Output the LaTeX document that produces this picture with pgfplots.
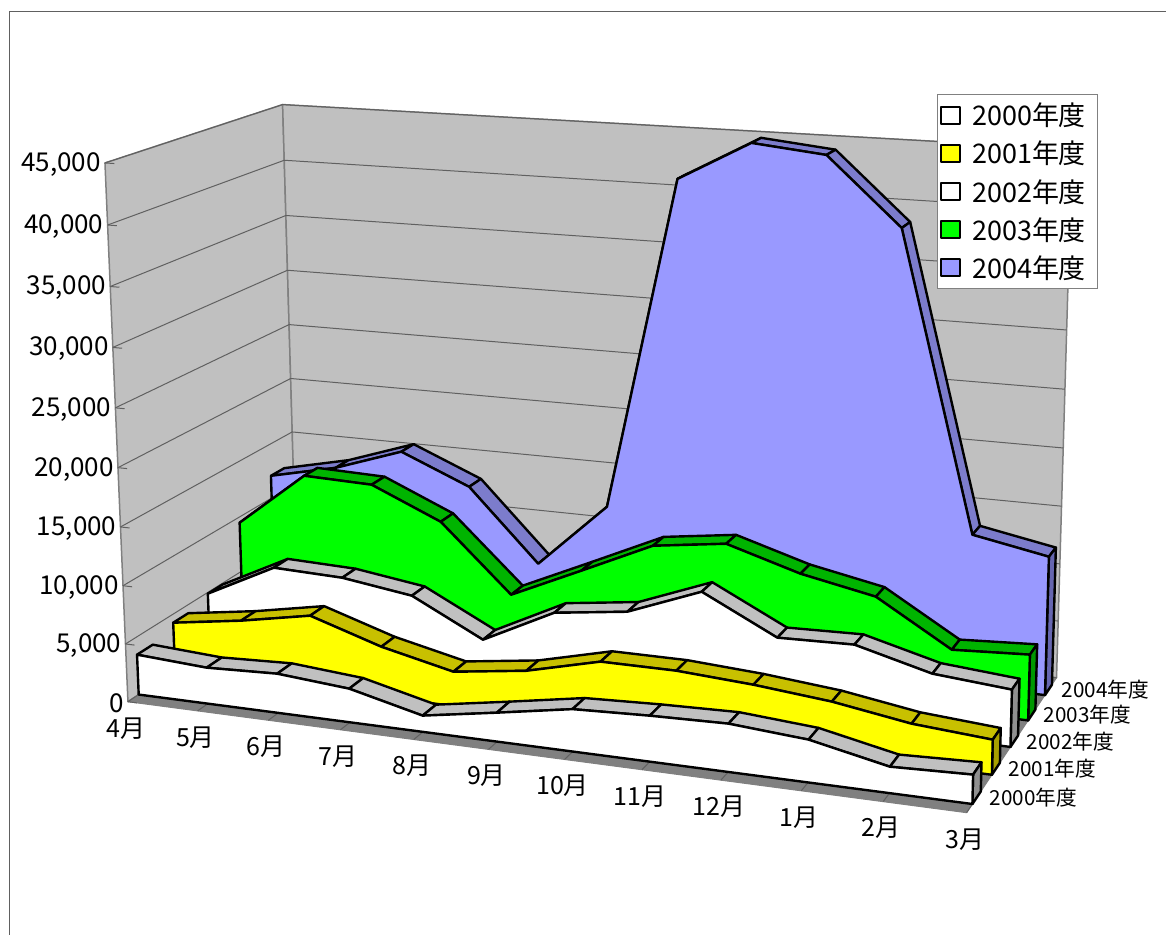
\documentclass[border=0pt]{standalone}
\usepackage{fontspec}
\usepackage{xfp}
\usepackage{pgfplots}
\usepackage{pgfplotstable}
\pgfplotsset{compat=1.18}
\setmainfont{Noto Sans CJK JP}

\definecolor{wall}{HTML}{C0C0C0}
\definecolor{floorc}{HTML}{808080}
\definecolor{gridc}{HTML}{606060}
\definecolor{yel}{HTML}{FFFF00}
\definecolor{yelt}{HTML}{C8C000}
\definecolor{yels}{HTML}{A8A000}
\definecolor{grn}{HTML}{00FF00}
\definecolor{grnt}{HTML}{00B400}
\definecolor{grns}{HTML}{009800}
\definecolor{blu}{HTML}{9999FF}
\definecolor{blut}{HTML}{7C7CCC}
\definecolor{blus}{HTML}{6666B0}
\definecolor{grayt}{HTML}{C0C0C0}
\definecolor{grays}{HTML}{909090}

\pgfplotstableread{
m y2000 y2001 y2002 y2003 y2004
0  3480 4253 4882  9478 12071
1  3114 5160 7911 14377 13419
2  3366 6323 7709 14190 15494
3  2867 4365 6823 11512 12910
4  1376 2967 3678  5675  6566
5  2428 3817 6765  8506 12373
6  3524 5358 7575 11377 41396
7  3787 5362 9995 12217 44783
8  3947 4968 6828 10318 44150
9  3470 4357 6987  9050 38500
10 2125 3346 5312  5251 13162
11 2344 2861 4770  5589 11947
}\sales

% the Excel 3-D view: month 0..11, depth 0..1 across the floor, value -> picture
\newcommand\dn[3]{(1-0.09526*(#1)/11+0.11523*(#2)-0.04*(#3)/45000)}
\newcommand\ptx[3]{\fpeval{round((128+746.9*(#1)/11+203.2*(#2)-27.2*(#3)/45000)/\dn{#1}{#2}{#3},2)}}
\newcommand\pty[3]{\fpeval{round(935-(702+33.6*(#1)/11-44*(#2)-545.5*(#3)/45000)/\dn{#1}{#2}{#3},2)}}
\newcommand\addpt[3]{\xdef\pts{\pts (\ptx{#1}{#2}{#3},\pty{#1}{#2}{#3}) }}
\newcommand\poly[1]{\edef\tmp{\noexpand\addplot[forget plot,\unexpanded{#1}] coordinates {\pts} -- cycle;}\tmp}
\newcommand\seg[1]{\edef\tmp{\noexpand\addplot[forget plot,\unexpanded{#1}] coordinates {\pts};}\tmp}

% column, front depth, front colour, top colour, side colour
\newcommand\drawseries[5]{%
  \edef\vf{#2}\edef\vb{\fpeval{#2+0.085}}%
  \foreach \r in {0,...,10}{%
    \pgfmathtruncatemacro\n{\r+1}%
    \pgfplotstablegetelem{\r}{#1}\of\sales\let\va\pgfplotsretval
    \pgfplotstablegetelem{\n}{#1}\of\sales\let\vc\pgfplotsretval
    \gdef\pts{}%
    \addpt{\r}{\vf}{\va}\addpt{\n}{\vf}{\vc}\addpt{\n}{\vb}{\vc}\addpt{\r}{\vb}{\va}%
    \poly{fill=#4,draw=black,line width=2.4pt}%
  }%
  \pgfplotstablegetelem{11}{#1}\of\sales\let\vc\pgfplotsretval
  \gdef\pts{}%
  \addpt{11}{\vf}{0}\addpt{11}{\vf}{\vc}\addpt{11}{\vb}{\vc}\addpt{11}{\vb}{0}%
  \poly{fill=#5,draw=black,line width=2.4pt}%
  \gdef\pts{}\addpt{0}{\vf}{0}%
  \foreach \r in {0,...,11}{%
    \pgfplotstablegetelem{\r}{#1}\of\sales\let\va\pgfplotsretval
    \addpt{\r}{\vf}{\va}%
  }%
  \addpt{11}{\vf}{0}%
  \poly{fill=#3,draw=black,line width=2.4pt}%
}

\begin{document}
\begin{tikzpicture}
\begin{axis}[
  width=1166pt,height=935pt,scale only axis,
  xmin=0,xmax=1166,ymin=0,ymax=935,
  axis line style={draw=none},ticks=none,clip=false,
  no markers,
  every axis plot/.append style={line join=round},
  legend cell align=left,
  legend image code/.code={\draw[line width=2pt,#1] (2pt,-8.5pt) rectangle (21pt,8.5pt);},
  legend style={
    at={(axis cs:937,841)},anchor=north west,
    draw=gray,line width=1pt,fill=white,
    font=\fontsize{27}{27}\selectfont,
    inner xsep=3pt,inner ysep=6.5pt,row sep=9.9pt,
  },
]
\addlegendimage{fill=white,draw=black}\addlegendentry{\hspace*{9pt}2000年度\hspace*{7pt}}
\addlegendimage{fill=yel,draw=black}\addlegendentry{\hspace*{9pt}2001年度\hspace*{7pt}}
\addlegendimage{fill=white,draw=black}\addlegendentry{\hspace*{9pt}2002年度\hspace*{7pt}}
\addlegendimage{fill=grn,draw=black}\addlegendentry{\hspace*{9pt}2003年度\hspace*{7pt}}
\addlegendimage{fill=blu,draw=black}\addlegendentry{\hspace*{9pt}2004年度\hspace*{7pt}}

% frame of the chart area
\addplot[forget plot,gridc,line width=1pt] coordinates {(9.5,0) (9.5,923) (1166,923)};

% walls and floor
\gdef\pts{}\addpt{0}{0}{0}\addpt{0}{1}{0}\addpt{0}{1}{45000}\addpt{0}{0}{45000}
\poly{fill=wall,draw=floorc,line width=1.5pt}
\gdef\pts{}\addpt{0}{1}{0}\addpt{11}{1}{0}\addpt{11}{1}{45000}\addpt{0}{1}{45000}
\poly{fill=wall,draw=floorc,line width=1.5pt}
\gdef\pts{}\addpt{0}{0}{0}\addpt{11}{0}{0}\addpt{11}{1}{0}\addpt{0}{1}{0}
\poly{fill=floorc,draw=floorc,line width=1pt}

% grid and value axis
\foreach \k/\lab in {0/0,1/{5,000},2/{10,000},3/{15,000},4/{20,000},5/{25,000},6/{30,000},7/{35,000},8/{40,000},9/{45,000}}{
  \pgfmathtruncatemacro\w{\k*500}
  \edef\w{\w0}
  \gdef\pts{}\addpt{0}{0}{\w}\addpt{0}{1}{\w}\addpt{11}{1}{\w}
  \seg{gridc,line width=1pt}
  \gdef\pts{}\addpt{0}{0}{\w}\addpt{0.13}{0}{\w}
  \seg{gridc,line width=1pt}
  \edef\tmp{\noexpand\node[anchor=east,inner sep=0pt,font=\noexpand\fontsize{26}{26}\noexpand\selectfont]
    at (axis cs:\fpeval{\ptx{0}{0}{\w}-4},\fpeval{\pty{0}{0}{\w}-1.5}) {\unexpanded\expandafter{\lab}};}\tmp
}
% month ticks on the floor
\foreach \r in {1,...,11}{
  \gdef\pts{}\addpt{\r}{0}{0}\addpt{\r}{0.06}{0}
  \seg{gridc,line width=1pt}
}

\drawseries{y2004}{0.8575}{blu}{blut}{blus}
\drawseries{y2003}{0.6575}{grn}{grnt}{grns}
\drawseries{y2002}{0.4575}{white}{grayt}{grays}
\drawseries{y2001}{0.2575}{yel}{yelt}{yels}
\drawseries{y2000}{0.0575}{white}{grayt}{grays}

% month names
\foreach \r/\lab in {0/4,1/5,2/6,3/7,4/8,5/9,6/10,7/11,8/12,9/1,10/2,11/3}{
  \edef\tmp{\noexpand\node[inner sep=0pt,font=\noexpand\fontsize{25}{25}\noexpand\selectfont]
    at (axis cs:\fpeval{\ptx{\r}{0}{0}-2},\fpeval{\pty{\r}{0}{0}-26.5}) {\lab 月};}\tmp
}

% series names along the depth axis
\node[anchor=west,inner sep=0pt,font=\fontsize{20.7}{20.7}\selectfont] at (axis cs:990,137) {2000年度};
\node[anchor=west,inner sep=0pt,font=\fontsize{20.7}{20.7}\selectfont] at (axis cs:1009,166) {2001年度};
\node[anchor=west,inner sep=0pt,font=\fontsize{20.7}{20.7}\selectfont] at (axis cs:1027,193) {2002年度};
\node[anchor=west,inner sep=0pt,font=\fontsize{20.7}{20.7}\selectfont] at (axis cs:1044,220) {2003年度};
\node[anchor=west,inner sep=0pt,font=\fontsize{20.7}{20.7}\selectfont] at (axis cs:1062,245) {2004年度};
\end{axis}
\end{tikzpicture}
\end{document}
